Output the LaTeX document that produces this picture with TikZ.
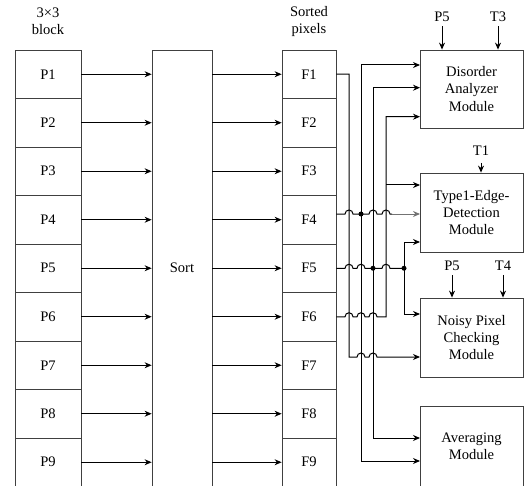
\documentclass[tikz,border=0pt]{standalone}
\usepackage{fontspec}
\setmainfont{Liberation Serif}
\usetikzlibrary{arrows.meta}
\begin{document}
\begin{tikzpicture}[x=1bp,y=1bp,
  font=\fontsize{14.6}{17.5}\selectfont,
  box/.style={draw=black!75, line width=0.8bp, inner sep=0pt, align=center},
  wire/.style={line width=1bp},
  tip/.tip={Stealth[length=7bp,width=6bp]},
  arr/.style={wire, -tip},
  darr/.style={wire, tip-tip},
  lbl/.style={inner sep=1bp, align=center},
  dot/.style={circle, fill, inner sep=0pt, minimum size=5bp}]
\useasboundingbox (0,0) rectangle (524,-486);

% left columns
\foreach \i in {1,...,9}{
  \node[box, minimum width=66bp, minimum height=48.5bp] (P\i) at (48,{-50-48.5*(\i-0.5)}) {P\i};
  \node[box, minimum width=54bp, minimum height=48.5bp] (F\i) at (309,{-50-48.5*(\i-0.5)}) {F\i};
}
\node[box, minimum width=60bp, minimum height=436.5bp] (sort) at (182,-268.25) {Sort};
\foreach \i in {1,...,9}{
  \draw[arr] (P\i.east) -- (P\i.east -| sort.west);
  \draw[arr] (P\i.east -| sort.east) -- (F\i.west);
}
\node[lbl] (blk) at (48,-21.5) {3×3\\block};
\node[lbl] (srt) at (309,-21.5) {Sorted\\pixels};

% right modules
\node[box, minimum width=103bp, minimum height=78bp] (da) at (471.5,-89) {Disorder\\Analyzer\\Module};
\node[box, minimum width=103bp, minimum height=79bp] (t1) at (471.5,-212.5) {Type1-Edge-\\Detection\\Module};
\node[box, minimum width=103bp, minimum height=79bp] (np) at (471.5,-337.5) {Noisy Pixel\\Checking\\Module};
\node[box, minimum width=103bp, minimum height=80bp] (av) at (471.5,-446) {Averaging\\Module};

% top inputs
\node[lbl] (p5a) at (442,-17) {P5};
\node[lbl] (t3) at (498,-17) {T3};
\node[lbl] (t1l) at (481,-151) {T1};
\node[lbl] (p5b) at (452,-266) {P5};
\node[lbl] (t4) at (503,-266) {T4};
\draw[arr] ([yshift=-3bp]p5a.south) -- (p5a.south |- da.north);
\draw[arr] ([yshift=-3bp]t3.south) -- (t3.south |- da.north);
\draw[arr] ([yshift=-6bp]t1l.south) -- (t1l.south |- t1.north);
\draw[arr] ([yshift=-3bp]p5b.south) -- (p5b.south |- np.north);
\draw[arr] ([yshift=-3bp]t4.south) -- (t4.south |- np.north);

% module input points
\coordinate (da1) at (420,-65);
\coordinate (da2) at (420,-87.7);
\coordinate (da3) at (420,-116.7);
\coordinate (ti1) at (420,-185);
\coordinate (ti2) at (420,-214);
\coordinate (ti3) at (420,-242);
\coordinate (np1) at (420,-314);
\coordinate (np2) at (420,-357);
\coordinate (av1) at (420,-438);
\coordinate (av2) at (420,-461);

% F1 -> Noisy
\draw[arr] (F1.east) -- (349,-74.25) -- (349,-357) -- (357,-357) arc (180:0:4)
  -- (369,-357) arc (180:0:4) -- (np2);
% F4 bus (x=361)
\draw[darr] (da1) -- (361,-65) -- (361,-461) -- (av2);
% F5 bus (x=373)
\draw[darr] (da2) -- (373,-87.7) -- (373,-438) -- (av1);
% F6 bus (x=386)
\draw[arr] (F6.east) -- (345,-316.75) arc (180:0:4) -- (357,-316.75) arc (180:0:4)
  -- (369,-316.75) arc (180:0:4) -- (386,-316.75) -- (386,-116.7) -- (da3);
\coordinate (j6) at (386,-185);
\draw[arr] (j6) -- (ti1);
% F4 line
\coordinate (j4) at (361,-214);
\draw[wire] ([yshift=5.75bp]F4.east) -- (345,-214) arc (180:0:4) -- (j4)
  -- (369,-214) arc (180:0:4) -- (382,-214) arc (180:0:4) -- (392,-214);
\draw[arr, black!55] (392,-214) -- (ti2);
\node[dot] (d4) at (j4) {};
% F5 line
\coordinate (j5) at (373,-268.25);
\coordinate (j5b) at (404,-268.25);
\draw[wire] (F5.east) -- (345,-268.25) arc (180:0:4) -- (357,-268.25) arc (180:0:4)
  -- (j5) -- (382,-268.25) arc (180:0:4) -- (j5b);
\node[dot] (d5) at (j5) {};
\node[dot] (d5b) at (j5b) {};
\draw[arr] (j5b) |- (ti3);
\draw[arr] (j5b) |- (np1);
\end{tikzpicture}
\end{document}
